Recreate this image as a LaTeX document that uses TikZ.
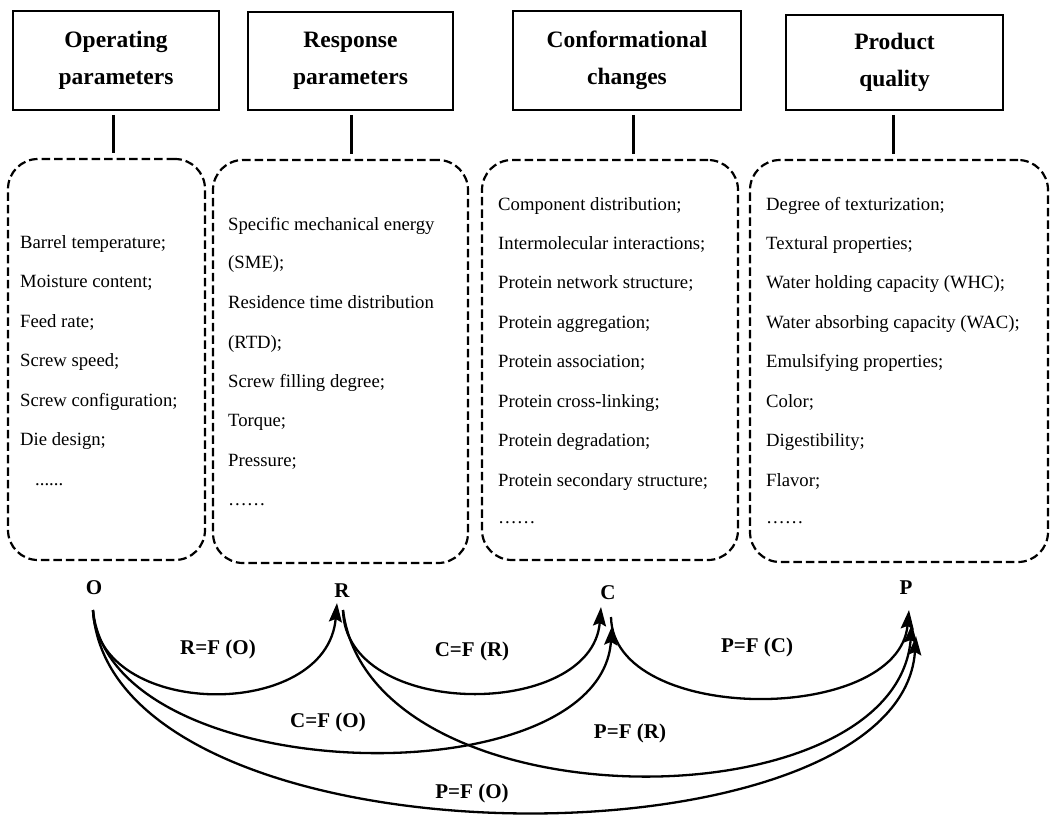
\documentclass[tikz,border=0pt]{standalone}
\usepackage{fontspec}
\setmainfont{Liberation Serif}
\usetikzlibrary{arrows.meta}
\begin{document}
\begin{tikzpicture}[x=1pt,y=-1pt,
 hbox/.style={draw, line width=1.5pt, inner sep=0pt, align=center, font=\fontsize{23.5}{37}\selectfont\bfseries},
 dbox/.style={draw, line width=2.2pt, dash pattern=on 8.5pt off 4pt, rounded corners=30pt, inner sep=0pt},
 item/.style={anchor=base west, inner sep=0pt, font=\fontsize{18.7}{22}\selectfont},
 lbl/.style={font=\fontsize{21}{24}\selectfont\bfseries, inner sep=1pt},
 arr/.style={line width=2.3pt, -{Stealth[length=19pt,width=13pt,inset=3pt]}},
 vline/.style={line width=3pt, shorten <=4pt, shorten >=5pt}]
\useasboundingbox (0,0) rectangle (1051,816);

% header boxes
\node[hbox, minimum width=206pt, minimum height=99pt] (h1) at (116,60.5) {Operating\\parameters};
\node[hbox, minimum width=205pt, minimum height=98pt] (h2) at (350.5,61) {Response\\parameters};
\node[hbox, minimum width=228pt, minimum height=99pt] (h3) at (627,60.5) {Conformational\\changes};
\node[hbox, minimum width=217pt, minimum height=95pt] (h4) at (894.5,62.5) {Product\\quality};

% dashed boxes
\node[dbox, minimum width=197pt, minimum height=401pt] (d1) at (106.5,359.5) {};
\node[dbox, minimum width=255pt, minimum height=403pt] (d2) at (340.5,361.5) {};
\node[dbox, minimum width=256pt, minimum height=400pt] (d3) at (610,360) {};
\node[dbox, minimum width=298pt, minimum height=402pt] (d4) at (899,361) {};

% connecting lines
\draw[vline] ([xshift=-3pt]h1.south) -- ([xshift=-3pt]h1.south |- d1.north);
\draw[vline] ([xshift=0.5pt]h2.south) -- ([xshift=0.5pt]h2.south |- d2.north);
\draw[vline] ([xshift=6pt]h3.south) -- ([xshift=6pt]h3.south |- d3.north);
\draw[vline] ([xshift=-1.5pt]h4.south) -- ([xshift=-1.5pt]h4.south |- d4.north);

% items box 1
\node[item] (a1) at (20,248) {Barrel temperature;};
\node[item] (a2) at (20,287) {Moisture content;};
\node[item] (a3) at (20,327) {Feed rate;};
\node[item] (a4) at (20,366) {Screw speed;};
\node[item] (a5) at (20,406) {Screw configuration;};
\node[item] (a6) at (20,445) {Die design;};
\node[item] (a7) at (35,485) {......};

% items box 2
\node[item] (b1) at (228,230) {Specific mechanical energy};
\node[item] (b2) at (228,268) {(SME);};
\node[item] (b3) at (228,308) {Residence time distribution};
\node[item] (b4) at (228,348) {(RTD);};
\node[item] (b5) at (228,387) {Screw filling degree;};
\node[item] (b6) at (228,426) {Torque;};
\node[item] (b7) at (228,466) {Pressure;};
\node[item] (b8) at (228,505) {……};

% items box 3
\node[item] (c1) at (498,210) {Component distribution;};
\node[item] (c2) at (498,249) {Intermolecular interactions;};
\node[item] (c3) at (498,288) {Protein network structure;};
\node[item] (c4) at (498,328) {Protein aggregation;};
\node[item] (c5) at (498,367) {Protein association;};
\node[item] (c6) at (498,407) {Protein cross-linking;};
\node[item] (c7) at (498,446) {Protein degradation;};
\node[item] (c8) at (498,486) {Protein secondary structure;};
\node[item] (c9) at (498,523) {……};

% items box 4
\node[item] (e1) at (766,210) {Degree of texturization;};
\node[item] (e2) at (766,249) {Textural properties;};
\node[item] (e3) at (766,288) {Water holding capacity (WHC);};
\node[item] (e4) at (766,328) {Water absorbing capacity (WAC);};
\node[item] (e5) at (766,367) {Emulsifying properties;};
\node[item] (e6) at (766,407) {Color;};
\node[item] (e7) at (766,446) {Digestibility;};
\node[item] (e8) at (766,486) {Flavor;};
\node[item] (e9) at (766,523) {……};

% letters
\node[lbl] (O) at (94,588) {O};
\node[lbl] (R) at (342,591) {R};
\node[lbl] (C) at (608,593) {C};
\node[lbl] (P) at (906,588) {P};

% curve ends
\coordinate (Os) at (93,610);
\coordinate (Rs) at (343,610);
\coordinate (Rin) at (337,603);
\coordinate (Cin1) at (601,607);
\coordinate (Cs) at (611,617);
\coordinate (Cin2) at (612,626);
\coordinate (Pin1) at (909,610);
\coordinate (Pin2) at (912,624);
\coordinate (Pin3) at (916,636);

% relations
\draw[arr] (Os) .. controls +(3,110) and +(-10,119) .. (Rin);
\draw[arr] (Rs) .. controls +(2,110) and +(-9,113) .. (Cin1);
\draw[arr] (Cs) .. controls +(2,108) and +(-11,115) .. (Pin1);
\draw[arr] (Os) .. controls +(17,180) and +(-12,174) .. (Cin2);
\draw[arr] (Rs) .. controls +(27,217) and +(-17,203) .. (Pin2);
\draw[arr] (Os) .. controls +(17,264) and +(-16,238) .. (Pin3);

% labels
\node[lbl] (l1) at (218,649) {R=F (O)};
\node[lbl] (l2) at (472,651) {C=F (R)};
\node[lbl] (l3) at (757,647) {P=F (C)};
\node[lbl] (l4) at (328,722) {C=F (O)};
\node[lbl] (l5) at (630,733) {P=F (R)};
\node[lbl] (l6) at (472,793) {P=F (O)};
\end{tikzpicture}
\end{document}
